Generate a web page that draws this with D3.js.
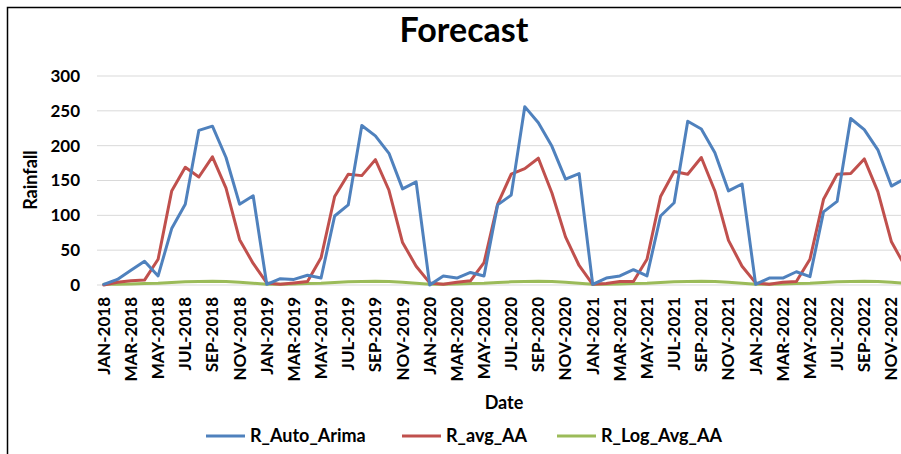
<!DOCTYPE html>
<html><head><meta charset="utf-8">
<script src="https://cdn.jsdelivr.net/npm/d3@7"></script>
<style>
html,body{margin:0;padding:0;background:#fff;overflow:hidden;}
text{font-family:Lato,"Open Sans",sans-serif;font-weight:bold;fill:#000;}
</style></head>
<body><svg id="c" width="901" height="454"></svg>
<script>
const months = ["JAN","FEB","MAR","APR","MAY","JUN","JUL","AUG","SEP","OCT","NOV","DEC"];
const years = [2018,2019,2020,2021,2022];
const dates = [];
years.forEach(y => months.forEach(m => dates.push(m + "-" + y)));

const autoArima = [1,8,21,34,13,81,116,222,228,183,116,128,
                   1,9,8,14,10,99,115,229,214,189,138,148,
                   0,13,10,18,13,115,129,256,233,199,152,160,
                   1,10,13,22,13,99,118,235,224,190,135,145,
                   1,10,10,19,12,105,120,239,223,194,142,153];
const avgAA = [0,4,6,7,37,135,169,155,184,139,65,31,
               3,1,3,5,39,127,159,157,180,136,61,27,
               3,1,4,6,32,116,159,167,182,132,69,28,
               1,2,5,5,37,127,163,159,183,135,64,27,
               3,1,4,5,37,123,159,160,181,134,62,27];
const logAvgAA = [1,1,1.5,2,2.5,3.5,4.5,5,5.5,5,4,2.5,
                  1,1,1.5,2,2.5,3.5,4.5,5,5.5,5,4,2.5,
                  1,1,1.5,2,2.5,3.5,4.5,5,5.5,5,4,2.5,
                  1,1,1.5,2,2.5,3.5,4.5,5,5.5,5,4,2.5,
                  1,1,1.5,2,2.5,3.5,4.5,5,5.5,5,4,2.5];
const yTicks = [0,50,100,150,200,250,300];
const seriesNames = ["R_Auto_Arima","R_avg_AA","R_Log_Avg_AA"];
const seriesColors = ["#4F81BD","#C0504D","#9BBB59"];
const seriesData = [autoArima, avgAA, logAvgAA];

const svg = d3.select("#c");
// frame
svg.append("path").attr("d","M7.5,454 L7.5,7.5 L901,7.5").attr("fill","none").attr("stroke","#000").attr("stroke-width",1.5);

const pLeft = 97, pRight = 97 + 60*13.58, pTop = 76, pBottom = 285;
const x = d3.scaleBand().domain(dates).range([pLeft, pRight]);
const y = d3.scaleLinear().domain([0,300]).range([pBottom, pTop]);

// gridlines
svg.append("g").selectAll("line").data(yTicks.filter(t=>t>0)).join("line")
  .attr("x1", pLeft).attr("x2", 901).attr("y1", d=>y(d)).attr("y2", d=>y(d))
  .attr("stroke","#d9d9d9").attr("stroke-width",1);
svg.append("line").attr("x1",pLeft).attr("x2",901).attr("y1",y(0)).attr("y2",y(0))
  .attr("stroke","#d9d9d9").attr("stroke-width",1.2);

// y axis labels
const yAxis = d3.axisLeft(y).tickValues(yTicks).tickSize(0).tickPadding(0);
const gy = svg.append("g").attr("transform",`translate(80,0)`).call(yAxis);
gy.select(".domain").remove();
gy.selectAll("text").style("font-size","17px").style("font-family","Lato").style("font-weight","bold").attr("fill","#000");

// x axis labels
const xAxis = d3.axisBottom(x).tickValues(dates.filter((d,i)=>i%2===0)).tickSize(0).tickPadding(0);
const gx = svg.append("g").attr("transform",`translate(0,${pBottom})`).call(xAxis);
gx.select(".domain").remove();
gx.selectAll("text").attr("transform","rotate(-90)").attr("x",-12).attr("y",0).attr("dy","0.35em")
  .style("text-anchor","end").style("font-size","17px").style("font-family","Lato").style("font-weight","bold").attr("fill","#000");

// lines
const line = d3.line().x((d,i)=>x(dates[i]) + x.bandwidth()/2).y(d=>y(d));
[2,1,0].forEach(k=>{
  svg.append("path").datum(seriesData[k]).attr("d", line)
    .attr("fill","none").attr("stroke",seriesColors[k]).attr("stroke-width",3)
    .attr("stroke-linejoin","round").attr("stroke-linecap","round");
});

// titles
svg.append("text").attr("x",464).attr("y",42).attr("text-anchor","middle").style("font-size","34px").text("Forecast");
svg.append("text").attr("transform","translate(37,180) rotate(-90)").attr("text-anchor","middle").style("font-size","18px").text("Rainfall");
svg.append("text").attr("x",504).attr("y",409).attr("text-anchor","middle").style("font-size","18px").text("Date");

// legend
const legX = [206, 402, 557];
const lg = svg.append("g");
seriesNames.forEach((n,i)=>{
  lg.append("line").attr("x1",legX[i]).attr("x2",legX[i]+39).attr("y1",436).attr("y2",436)
    .attr("stroke",seriesColors[i]).attr("stroke-width",3);
  lg.append("text").attr("x",legX[i]+44).attr("y",442).style("font-size","18px").text(n);
});
</script></body></html>
